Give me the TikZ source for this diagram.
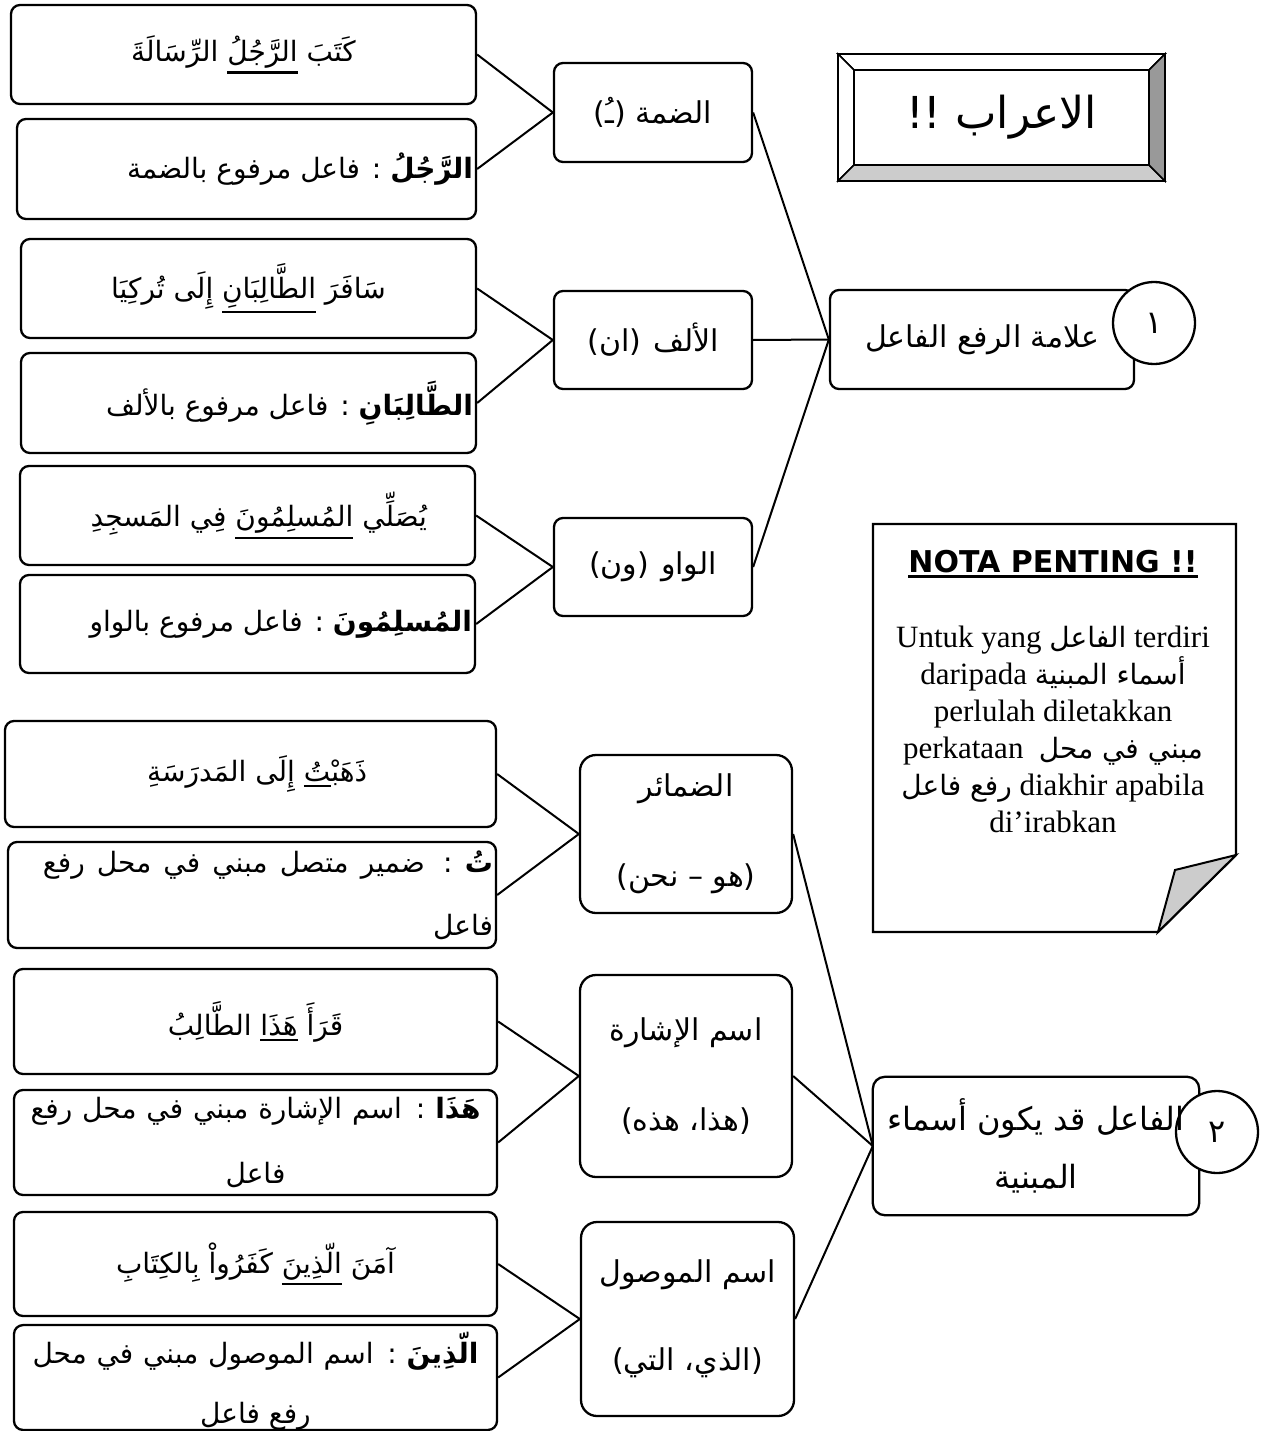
\documentclass[tikz,border=0pt]{standalone}
\usepackage{fontspec}
\setmainfont{Liberation Serif}
\newfontfamily\ar[Script=Arabic]{DejaVu Sans}
\newfontfamily\headfont{DejaVu Sans}
\TeXXeTstate=1
\usetikzlibrary{backgrounds}
\newcommand\ulw[1]{\vtop{\hbox{#1}\kern3pt\hrule height 2.2pt}}
\newcommand\arm{\ar\fontsize{28}{34}\selectfont}
\newcommand\armid{\ar\fontsize{30}{36}\selectfont}
\newcommand\arn{\ar\fontsize{28}{30}\selectfont}
\begin{document}
\begin{tikzpicture}[x=1pt,y=-1pt,
  rbox/.style={draw, line width=2.3pt, rounded corners=9pt, inner sep=0pt},
  tbox/.style={draw, line width=2.3pt, rounded corners=16pt, inner sep=0pt, align=center},
  link/.style={line width=2pt},
  numc/.style={circle, draw, fill=white, line width=2.3pt, minimum size=82pt, inner sep=0pt, font=\ar\fontsize{32}{32}\selectfont}]
\useasboundingbox (0,0) rectangle (1269,1431);
\begin{scope}[on background layer]
\fill[white] (0,0) rectangle (1269,1431);
\end{scope}

% ---------- left column ----------
\node[rbox, minimum width=465pt, minimum height=99pt, font=\arm] (a1) at (243.5,54.5)
  {\beginR كَتَبَ \ulw{الرَّجُلُ} الرِّسَالَةَ\endR};
\node[rbox, minimum width=459pt, minimum height=100pt, font=\arm] (a2) at (246.5,169)
  {\hbox to 453pt{\hfill\beginR\textbf{الرَّجُلُ} : فاعل مرفوع بالضمة\endR}};
\node[rbox, minimum width=455pt, minimum height=99pt, font=\arm] (b1) at (248.5,288.5)
  {\beginR سَافَرَ \ulw{الطَّالِبَانِ} إِلَى تُركِيَا\endR};
\node[rbox, minimum width=455pt, minimum height=100pt, font=\arm] (b2) at (248.5,403)
  {\hbox to 449pt{\hfill\beginR\textbf{الطَّالِبَانِ} : فاعل مرفوع بالألف\endR}};
\node[rbox, minimum width=455pt, minimum height=99pt, font=\arm] (c1) at (247.5,515.5)
  {\hbox to 455pt{\hfill\beginR يُصَلِّي \ulw{المُسلِمُونَ} فِي المَسجِدِ\endR\hskip48pt}};
\node[rbox, minimum width=455pt, minimum height=98pt, font=\arm] (c2) at (247.5,624)
  {\hbox to 449pt{\hfill\beginR\textbf{المُسلِمُونَ} : فاعل مرفوع بالواو\endR}};

\node[rbox, minimum width=491pt, minimum height=106pt, font=\arm] (d1) at (250.5,774)
  {\hbox to 491pt{\hfill\beginR ذَهَبْ^^^^200d\ulw{^^^^200dتُ} إِلَى المَدرَسَةِ\endR\hskip129pt}};
\node[rbox, align=center, minimum width=488pt, minimum height=106pt, font=\ar\fontsize{28}{63}\selectfont] (d2) at (252,895)
  {\hbox to 482pt{\hskip32pt\beginR\textbf{تُ} : ضمير متصل مبني في محل رفع\endR}\\
   \hbox to 482pt{\hfill\beginR فاعل\endR}};
\node[rbox, minimum width=483pt, minimum height=105pt, font=\arm] (e1) at (255.5,1021.5)
  {\beginR قَرَأَ \ulw{هَذَا} الطَّالِبُ\endR};
\node[rbox, align=center, minimum width=483pt, minimum height=105pt, font=\ar\fontsize{28}{65}\selectfont] (e2) at (255.5,1142.5)
  {\hbox to 450pt{\beginR\textbf{هَذَا} : اسم الإشارة مبني في محل رفع\endR}\\
   \beginR فاعل\endR};
\node[rbox, minimum width=483pt, minimum height=104pt, font=\arm] (f1) at (255.5,1264)
  {\beginR آمَنَ \ulw{الّذِينَ} كَفَرُواْ بِالكِتَابِ\endR};
\node[rbox, align=center, minimum width=483pt, minimum height=101pt, font=\ar\fontsize{28}{60}\selectfont] (f2) at (255.5,1377.5)
  {\rule{0pt}{38pt}\hbox to 446pt{\beginR\textbf{الّذِينَ} : اسم الموصول مبني في محل\endR}\\
   \beginR رفع فاعل\endR};

% ---------- middle column ----------
\node[rbox, minimum width=198pt, minimum height=99pt, font=\armid] (m1) at (653,112.5)
  {\beginR الضمة (ـُ)\endR};
\node[rbox, minimum width=198pt, minimum height=98pt, font=\armid] (m2) at (653,340)
  {\beginR الألف\hskip12pt (ان)\endR};
\node[rbox, minimum width=198pt, minimum height=98pt, font=\armid] (m3) at (653,567)
  {\beginR الواو\hskip12pt (ون)\endR};

\node[tbox, minimum width=212pt, minimum height=158pt, font=\ar\fontsize{30}{90}\selectfont] (n1) at (686,834)
  {\beginR الضمائر\endR\\ \beginR (هو – نحن)\endR};
\node[tbox, minimum width=212pt, minimum height=202pt, font=\ar\fontsize{30}{90}\selectfont] (n2) at (686,1076)
  {\beginR اسم الإشارة\endR\\ \beginR (هذا، هذه)\endR};
\node[tbox, minimum width=213pt, minimum height=194pt, font=\ar\fontsize{30}{88}\selectfont] (n3) at (687.5,1319)
  {\beginR اسم الموصول\endR\\ \beginR (الذي، التي)\endR};

% ---------- right column ----------
\node[rbox, minimum width=304pt, minimum height=99pt, font=\armid] (r1) at (982,339.5)
  {\beginR علامة الرفع الفاعل\endR};
\node[numc] (k1) at (1154,323) {١};

\node[align=center, inner sep=0pt, minimum width=326pt, minimum height=138pt, font=\ar\fontsize{32}{58}\selectfont] (r2) at (1036,1146)
  {\beginR الفاعل قد يكون أسماء\endR\\ \beginR المبنية\endR};
\begin{scope}[on background layer]
\draw[line width=2.3pt, rounded corners=12pt] (r2.north west) rectangle (r2.south east);
\node[numc] (k2) at (1217,1132) {٢};
\end{scope}

% title with bevel
\filldraw[fill=white, line width=1.5pt] (838,54) -- (1165,54) -- (1149,70) -- (854,70) -- cycle;
\filldraw[fill=white, line width=1.5pt] (838,54) -- (854,70) -- (854,165) -- (838,181) -- cycle;
\filldraw[fill=black!20, line width=1.5pt] (838,181) -- (854,165) -- (1149,165) -- (1165,181) -- cycle;
\filldraw[fill=black!40, line width=1.5pt] (1165,54) -- (1149,70) -- (1149,165) -- (1165,181) -- cycle;
\draw[line width=2.5pt] (838,54) rectangle (1165,181);
\node[draw, line width=1.5pt, minimum width=295pt, minimum height=95pt, inner sep=0pt, font=\ar\fontsize{44}{46}\selectfont] (title) at (1001.5,117.5)
  {\beginR الاعراب !!\endR};

% note
\draw[line width=2.3pt, fill=white] (873,524) -- (1236,524) -- (1236,855) -- (1158,932) -- (873,932) -- cycle;
\filldraw[fill=black!20, line width=2pt] (1236,855) -- (1175,870) -- (1158,932) -- cycle;
\node[font=\headfont\bfseries\fontsize{30}{36}\selectfont, inner sep=0pt, anchor=base] (notah) at (1053,572)
  {\vtop{\hbox{NOTA PENTING !!}\kern3pt\hrule height 2.5pt}};
\node[align=center, font=\fontsize{31}{37}\selectfont, inner sep=0pt, anchor=north] (notab) at (1053,626)
  {Untuk yang {\arn\beginR الفاعل\endR} terdiri\\
   daripada {\arn\beginR أسماء المبنية\endR}\\
   perlulah diletakkan\\
   perkataan\ \ {\arn\beginR مبني في محل\endR}\\
   {\arn\beginR رفع فاعل\endR} diakhir apabila\\
   di’irabkan};

% ---------- connectors ----------
\draw[link] (a1.east) -- (m1.west);
\draw[link] (a2.east) -- (m1.west);
\draw[link] (b1.east) -- (m2.west);
\draw[link] (b2.east) -- (m2.west);
\draw[link] (c1.east) -- (m3.west);
\draw[link] (c2.east) -- (m3.west);
\draw[link] (m1.east) -- (r1.west);
\draw[link] (m2.east) -- (r1.west);
\draw[link] (m3.east) -- (r1.west);
\draw[link] (d1.east) -- (n1.west);
\draw[link] (d2.east) -- (n1.west);
\draw[link] (e1.east) -- (n2.west);
\draw[link] (e2.east) -- (n2.west);
\draw[link] (f1.east) -- (n3.west);
\draw[link] (f2.east) -- (n3.west);
\draw[link] (n1.east) -- (r2.west);
\draw[link] (n2.east) -- (r2.west);
\draw[link] (n3.east) -- (r2.west);
\end{tikzpicture}
\end{document}
